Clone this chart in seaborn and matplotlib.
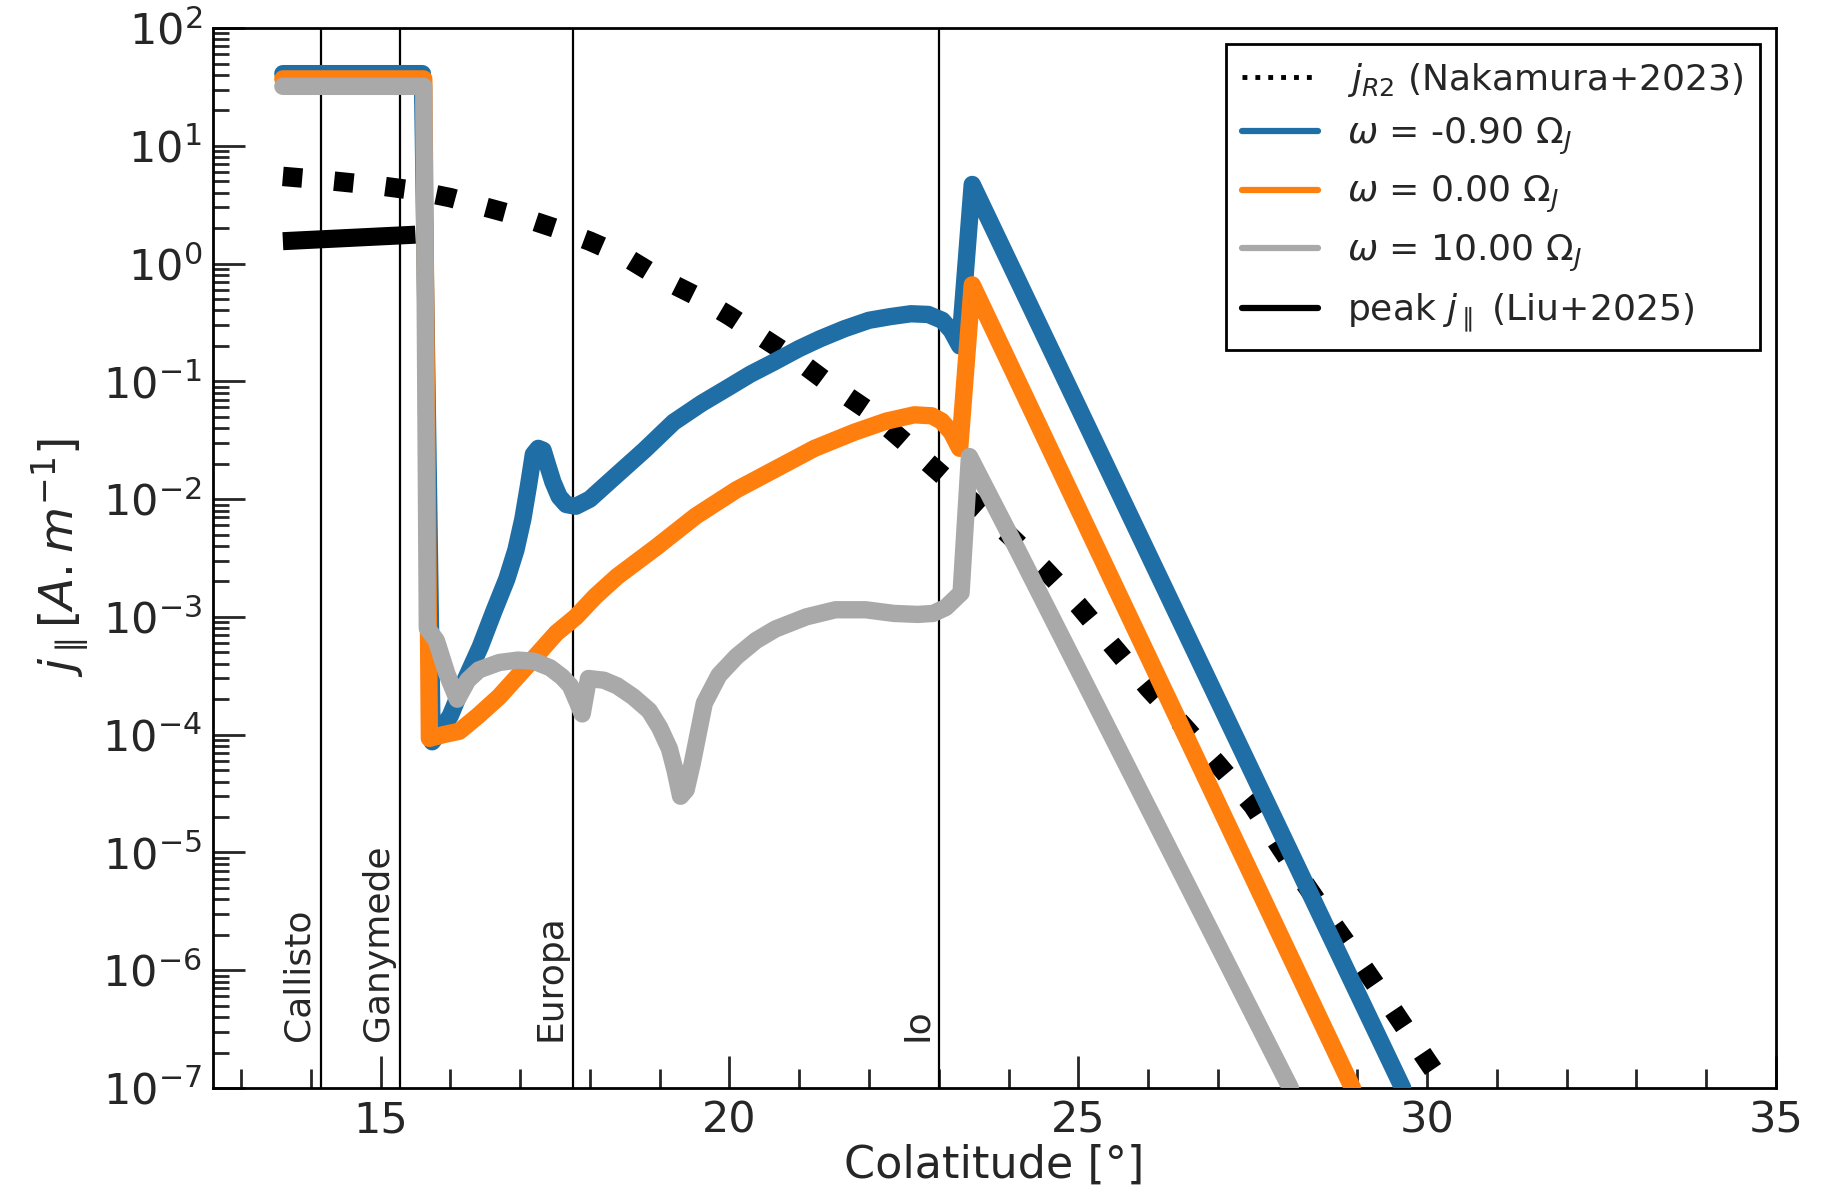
import numpy as np
import pandas as pd
import seaborn as sns
import matplotlib
matplotlib.use("Agg")
import matplotlib.pyplot as plt
from matplotlib.lines import Line2D
from matplotlib.ticker import LogLocator, MultipleLocator, NullFormatter

# ---------------- data ----------------
nak_x = [13.6, 14.0, 14.5, 15.0, 15.5, 16.0, 16.5, 17.0, 17.5, 18.0, 18.5, 19.0, 19.5,
         20.0, 20.5, 21.0, 21.5, 22.0, 22.5, 23.0, 23.5, 24.0, 24.5, 25.0, 25.5, 26.0,
         26.5, 27.0, 27.5, 28.0, 28.5, 29.0, 29.5, 30.0, 30.5]
nak_y = [5.5, 5.25, 4.9, 4.57, 4.17, 3.63, 3.02, 2.51, 2.0, 1.55, 1.15, 0.76, 0.54,
         0.36, 0.23, 0.148, 0.089, 0.056, 0.031, 0.017, 9.3e-3, 5.0e-3, 2.6e-3, 1.26e-3,
         5.6e-4, 2.5e-4, 1.2e-4, 5.6e-5, 2.5e-5, 8.9e-6, 3.3e-6, 1.26e-6, 4.7e-7, 1.7e-7, 6.3e-8]

blue_x = [13.6, 15.6, 15.74, 15.87, 16.0, 16.2, 16.43, 16.62, 16.81, 16.94, 17.04, 17.12,
          17.19, 17.26, 17.33, 17.4, 17.47, 17.56, 17.66, 17.8, 18.0, 18.33, 18.78, 19.2,
          19.6, 19.96, 20.3, 20.63, 21.0, 21.3, 21.65, 22.0, 22.31, 22.6, 22.85, 23.05,
          23.18, 23.3, 23.48, 29.65]
blue_y = [41, 41, 8.7e-5, 1.1e-4, 1.45e-4, 2.8e-4, 5.6e-4, 1.1e-3, 2.1e-3, 3.7e-3, 6.8e-3,
          1.3e-2, 2.4e-2, 2.7e-2, 2.6e-2, 1.9e-2, 1.4e-2, 1.05e-2, 9.0e-3, 8.7e-3, 1.0e-2,
          1.5e-2, 2.6e-2, 4.5e-2, 6.5e-2, 8.7e-2, 0.115, 0.145, 0.19, 0.23, 0.28, 0.33,
          0.355, 0.375, 0.37, 0.33, 0.27, 0.2, 4.7, 1.0e-7]

orange_x = [13.6, 15.62, 15.7, 15.9, 16.13, 16.4, 16.7, 17.0, 17.26, 17.52, 17.8, 18.08,
            18.39, 18.95, 19.52, 20.1, 20.66, 21.22, 21.79, 22.25, 22.65, 22.9, 23.04,
            23.18, 23.3, 23.48, 28.93]
orange_y = [37, 37, 9.3e-5, 1.0e-4, 1.07e-4, 1.45e-4, 2.1e-4, 3.3e-4, 4.9e-4, 7.3e-4,
            1.0e-3, 1.5e-3, 2.2e-3, 3.9e-3, 7.2e-3, 1.2e-2, 1.8e-2, 2.7e-2, 3.7e-2,
            4.6e-2, 5.2e-2, 5.1e-2, 4.6e-2, 3.7e-2, 2.7e-2, 0.66, 1.0e-7]

grey_x = [13.6, 15.62, 15.67, 15.8, 15.95, 16.1, 16.25, 16.41, 16.7, 16.97, 17.2, 17.43,
          17.6, 17.72, 17.82, 17.89, 17.98, 18.2, 18.39, 18.62, 18.85, 19.0, 19.14, 19.22,
          19.3, 19.38, 19.47, 19.64, 19.85, 20.1, 20.38, 20.66, 21.1, 21.52, 21.95, 22.36,
          22.7, 22.92, 23.1, 23.32, 23.44, 24.13, 28.04]
grey_y = [32, 32, 8e-4, 6.3e-4, 3.3e-4, 2.0e-4, 2.9e-4, 3.55e-4, 4.1e-4, 4.3e-4, 4.2e-4,
          3.7e-4, 3.1e-4, 2.6e-4, 1.9e-4, 1.5e-4, 3.0e-4, 2.9e-4, 2.6e-4, 2.1e-4, 1.6e-4,
          1.15e-4, 7.6e-5, 5.0e-5, 3.0e-5, 3.4e-5, 5.8e-5, 1.85e-4, 3.2e-4, 4.6e-4,
          6.3e-4, 7.9e-4, 1.0e-3, 1.15e-3, 1.15e-3, 1.07e-3, 1.05e-3, 1.07e-3, 1.2e-3,
          1.6e-3, 2.3e-2, 3.7e-3, 1.0e-7]

liu_x = [13.6, 15.5]
liu_y = [1.55, 1.76]

moon_names = ["Callisto", "Ganymede", "Europa", "Io"]
moon_colat = [14.15, 15.28, 17.76, 23.01]

legend_labels = [r"$j_{R2}$ (Nakamura+2023)",
                 r"$\omega$ = -0.90 $\Omega_J$",
                 r"$\omega$ = 0.00 $\Omega_J$",
                 r"$\omega$ = 10.00 $\Omega_J$",
                 r"peak $j_\parallel$ (Liu+2025)"]

c_blue = "#1f6ea6"
c_orange = "#ff7f0e"
c_grey = "#a9a9a9"

# ---------------- style ----------------
sns.set_style("ticks")
plt.rcParams["font.family"] = ["DejaVu Sans"]
plt.rcParams["mathtext.fontset"] = "dejavusans"

fig = plt.figure(figsize=(18.37, 11.94), dpi=100)
ax = fig.add_axes([0.116, 0.0888, 0.8508, 0.8877])

# moon lines
for name, xm in zip(moon_names, moon_colat):
    ax.axvline(xm, color="black", linewidth=1.6, zorder=1)
    ax.text(xm - 0.08, 10 ** -6.6, name, rotation=90, ha="right", va="bottom",
            fontsize=26, zorder=1)

def draw(xs, ys, **kw):
    df = pd.DataFrame({"x": xs, "y": ys})
    sns.lineplot(data=df, x="x", y="y", ax=ax, estimator=None, sort=False,
                 legend=False, **kw)

draw(nak_x, nak_y, color="black", linewidth=14, linestyle=":", zorder=2)
draw(blue_x, blue_y, color=c_blue, linewidth=12.5, zorder=3)
draw(orange_x, orange_y, color=c_orange, linewidth=12.5, zorder=4)
draw(grey_x, grey_y, color=c_grey, linewidth=12.5, zorder=5)
draw(liu_x, liu_y, color="black", linewidth=13, zorder=6, solid_capstyle="butt")

ax.set_yscale("log")
ax.set_xlim(12.6, 35)
ax.set_ylim(1e-7, 1e2)

ax.xaxis.set_major_locator(MultipleLocator(5))
ax.xaxis.set_minor_locator(MultipleLocator(1))
ax.yaxis.set_major_locator(LogLocator(base=10, numticks=20))
ax.yaxis.set_minor_locator(LogLocator(base=10, subs=np.arange(2, 10), numticks=100))
ax.yaxis.set_minor_formatter(NullFormatter())

ax.tick_params(axis="both", which="major", direction="in", length=23, width=2,
               labelsize=31, pad=8, top=False, right=False)
ax.tick_params(axis="x", which="minor", direction="in", length=14, width=2,
               top=False)
ax.tick_params(axis="y", which="minor", direction="in", length=11.5, width=2,
               right=False)
for s in ax.spines.values():
    s.set_linewidth(2)
    s.set_color("black")

ax.set_xlabel("Colatitude [°]", fontsize=32, labelpad=2)
ax.set_ylabel(r"$j_\parallel [A.m^{-1}]$", fontsize=34, labelpad=8)

handles = [Line2D([], [], color="black", linewidth=3.5, linestyle=":"),
           Line2D([], [], color=c_blue, linewidth=4.5),
           Line2D([], [], color=c_orange, linewidth=4.5),
           Line2D([], [], color=c_grey, linewidth=4.5),
           Line2D([], [], color="black", linewidth=4.5)]
leg = ax.legend(handles, legend_labels, loc="upper right", fontsize=26,
                frameon=True, fancybox=False, framealpha=1, edgecolor="black",
                handlelength=2.1, handletextpad=0.8, labelspacing=0.48,
                borderpad=0.45, borderaxespad=0.45)
leg.get_frame().set_linewidth(2)

fig.savefig("out.png", dpi=100)
